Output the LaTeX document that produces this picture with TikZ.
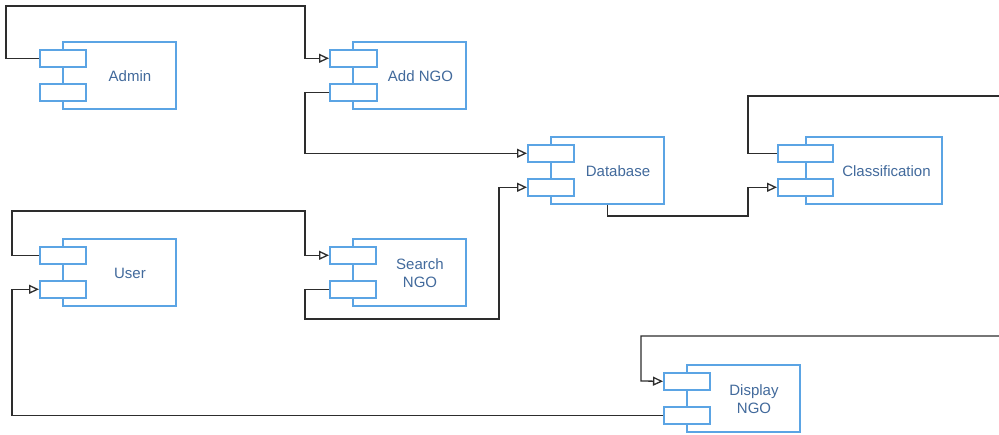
\documentclass[tikz,border=0pt]{standalone}
\usepackage{fontspec}
\setmainfont{Liberation Sans}
\usetikzlibrary{arrows.meta}
\definecolor{compblue}{RGB}{91,164,228}
\definecolor{comptext}{RGB}{66,106,156}
\definecolor{wire}{RGB}{45,45,45}
\tikzset{
  x=1pt, y=-1pt,
  body/.style={draw=compblue, line width=1.6pt, fill=white, inner sep=0pt,
    anchor=north west, minimum height=67pt},
  port/.style={draw=compblue, line width=1.6pt, fill=white, inner sep=0pt,
    anchor=north west, minimum height=17pt},
  label/.style={text=comptext, font=\fontsize{15pt}{18pt}\selectfont,
    align=center, inner sep=0pt},
  wire/.style={draw=wire, line width=1.3pt},
  flow/.style={wire, -{Triangle[open, length=10pt, width=9pt, fill=white]}},
}
% A component: body with two ports on its left edge and a centred label
% #1 name, #2 body left, #3 body top, #4 body width, #5 port left, #6 port width, #7 label
\newcommand\component[7]{%
  \node[body, minimum width=#4pt] (#1) at (#2,#3) {};
  \node[port, minimum width=#6pt] (#1-p1) at (#5,#3+8) {};
  \node[port, minimum width=#6pt] (#1-p2) at (#5,#3+42) {};
  \node[label] (#1-text) at ({(#5+#6+#2+#4)/2},{#3+35}) {#7};
}
\begin{document}
\begin{tikzpicture}
\useasboundingbox (0,0) rectangle (999,435);

\component{admin}{62}{41}{113}{39}{46}{Admin}
\component{addngo}{352}{41}{113}{329}{47}{Add NGO}
\component{database}{550}{136}{113}{527}{46}{Database}
\component{classification}{805}{136}{136}{777}{55}{Classification}
\component{user}{62}{238}{113}{39}{46}{User}
\component{searchngo}{352}{238}{113}{329}{46}{Search\\NGO}
\component{displayngo}{686}{364}{113}{663}{46}{Display\\NGO}

% free ends of the wires leaving the right edge
\coordinate (edgeA) at (999,96);
\coordinate (edgeB) at (999,336);

\draw[flow] (admin-p1.west) -- ++(-33,0) |- (305,6) |- (addngo-p1.west);
\draw[flow] (addngo-p2.west) -- ++(-24,0) |- (database-p1.west);
\draw[flow] (database.south) |- (748,216) |- (classification-p2.west);
\draw[wire] (classification-p1.west) -- ++(-29,0) |- (edgeA);
\draw[flow] (user-p1.west) -- ++(-27,0) |- (305,211) |- (searchngo-p1.west);
\draw[flow] (searchngo-p2.west) -- ++(-24,0) |- (499,319) |- (database-p2.west);
\draw[flow] (edgeB) -| (641,381) -- (displayngo-p1.west);
\draw[flow] (displayngo-p2.west) -| (12,350) |- (user-p2.west);
\end{tikzpicture}
\end{document}
